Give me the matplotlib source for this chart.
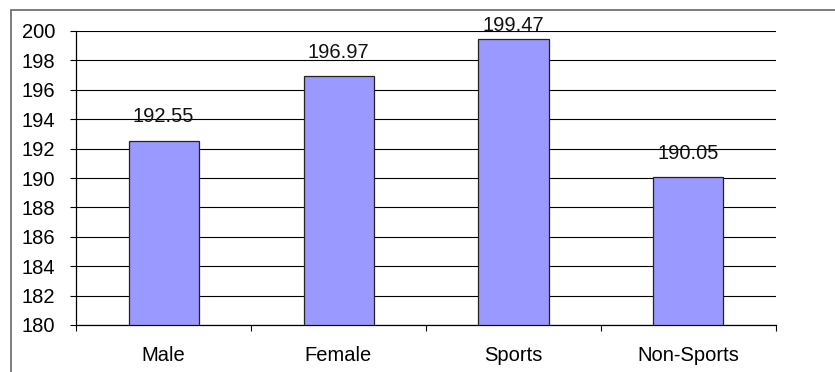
import matplotlib.pyplot as plt
from matplotlib.patches import Rectangle

# datos del grafico
categorias = ['Male', 'Female', 'Sports', 'Non-Sports']
valores = [192.55, 196.97, 199.47, 190.05]
etiquetas = ['192.55', '196.97', '199.47', '190.05']
ticks_y = [180, 182, 184, 186, 188, 190, 192, 194, 196, 198, 200]

plt.rcParams['font.family'] = ['Liberation Sans', 'DejaVu Sans']

fig = plt.figure(figsize=(8.35, 3.72), dpi=100)
ax = fig.add_axes([76 / 835, 1 - 325 / 372, 700 / 835, 294 / 372])

# marco gris alrededor del grafico
fig.patches.append(Rectangle((11 / 835, -0.5), 2, 0.5 + 1 - 10 / 372,
                             transform=fig.transFigure, fill=False,
                             edgecolor='#666666', linewidth=1.2))

x = range(len(categorias))
ax.bar(x, [v - 180 for v in valores], bottom=180, width=0.4,
       color='#9999FF', edgecolor='#222222', linewidth=0.9, zorder=3)

for i, v in enumerate(valores):
    ax.text(i, min(v + 1.6, 200.4), etiquetas[i], ha='center', va='center',
            fontsize=14.5, color='#111111', clip_on=False, zorder=4)

ax.set_ylim(180, 200)
ax.set_xlim(-0.5, len(categorias) - 0.5)
ax.set_yticks(ticks_y)
ax.set_yticklabels([str(t) for t in ticks_y])
ax.yaxis.grid(True, color='black', linewidth=0.8, zorder=1)
ax.set_axisbelow(True)

# marcas del eje x entre categorias
ax.set_xticks([i - 0.5 for i in range(len(categorias) + 1)])
ax.set_xticklabels([])
ax.set_xticks(list(x), minor=True)
ax.set_xticklabels(categorias, minor=True)
ax.tick_params(axis='x', which='minor', length=0, pad=15, labelsize=14.5)
ax.tick_params(axis='x', which='major', length=4.3, width=0.8, color='black')
ax.tick_params(axis='y', length=4.3, width=0.8, pad=10.5, labelsize=14.5)

for s in ['top', 'right']:
    ax.spines[s].set_visible(False)
for s in ['left', 'bottom']:
    ax.spines[s].set_color('black')
    ax.spines[s].set_linewidth(0.9)

fig.savefig('out.png', dpi=100)
